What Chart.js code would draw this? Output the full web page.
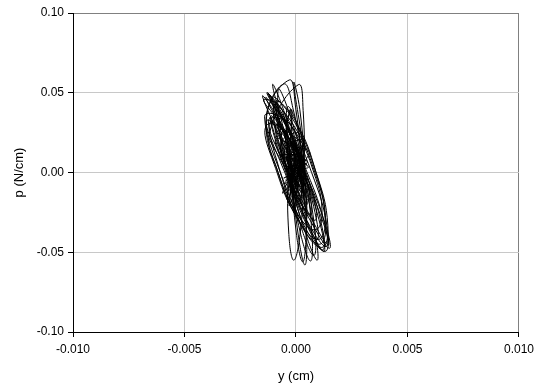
<!DOCTYPE html>
<html>
<head>
<meta charset="utf-8">
<script src="https://cdn.jsdelivr.net/npm/chart.js@4.4.1/dist/chart.umd.min.js"></script>
<style>
  html, body { margin: 0; padding: 0; background: #fff; }
  #wrap { width: 539px; height: 392px; }
</style>
</head>
<body>
<div id="wrap"><canvas id="loopChart" width="539" height="392"></canvas></div>
<script>
// Displacement y (cm), one line per loop of the record
const dispY = [
  -0.00050, -0.00027, 0.00012, 0.00043, 0.00050, 0.00027, -0.00012, -0.00043,
  0.00030, 0.00028, 0.00010, -0.00014, -0.00030, -0.00028, -0.00010, 0.00014,
  0.00060, 0.00049, 0.00010, -0.00035, -0.00060, -0.00049, -0.00010, 0.00035,
  -0.00070, -0.00041, 0.00012, 0.00057, 0.00070, 0.00041, -0.00012, -0.00057,
  -0.00060, -0.00017, 0.00035, 0.00067, 0.00060, 0.00017, -0.00035, -0.00067,
  0.00010, 0.00014, 0.00010, 0.00000, -0.00010, -0.00014, -0.00010, 0.00000,
  -0.00030, -0.00010, 0.00015, 0.00032, 0.00030, 0.00010, -0.00015, -0.00032,
  -0.00085, -0.00032, 0.00040, 0.00088, 0.00085, 0.00032, -0.00040, -0.00088,
  0.00050, 0.00041, 0.00008, -0.00029, -0.00050, -0.00041, -0.00008, 0.00029,
  -0.00020, -0.00007, 0.00010, 0.00021, 0.00020, 0.00007, -0.00010, -0.00021,
  -0.00150, -0.00078, 0.00040, 0.00134, 0.00150, 0.00078, -0.00040, -0.00134,
  -0.00030, -0.00002, 0.00030, 0.00048, 0.00040, 0.00012, -0.00020, -0.00038,
  0.00040, 0.00035, 0.00010, -0.00021, -0.00040, -0.00035, -0.00010, 0.00021,
  -0.00130, -0.00043, 0.00070, 0.00141, 0.00130, 0.00043, -0.00070, -0.00141,
  -0.00085, -0.00003, 0.00080, 0.00117, 0.00085, 0.00003, -0.00080, -0.00117,
  0.00010, 0.00032, 0.00035, 0.00018, -0.00010, -0.00032, -0.00035, -0.00018,
  -0.00045, -0.00025, 0.00010, 0.00039, 0.00045, 0.00025, -0.00010, -0.00039,
  -0.00105, -0.00013, 0.00090, 0.00143, 0.00115, 0.00023, -0.00080, -0.00133,
  -0.00055, -0.00012, 0.00040, 0.00072, 0.00065, 0.00022, -0.00030, -0.00062,
  -0.00145, -0.00082, 0.00030, 0.00124, 0.00145, 0.00082, -0.00030, -0.00124,
  -0.00040, -0.00007, 0.00030, 0.00049, 0.00040, 0.00007, -0.00030, -0.00049,
  -0.00105, -0.00055, 0.00025, 0.00087, 0.00095, 0.00045, -0.00035, -0.00097,
  -0.00120, -0.00053, 0.00045, 0.00117, 0.00120, 0.00053, -0.00045, -0.00117,
  -0.00060, -0.00031, 0.00015, 0.00053, 0.00060, 0.00031, -0.00015, -0.00053,
  -0.00080, -0.00029, 0.00040, 0.00085, 0.00080, 0.00029, -0.00040, -0.00085,
  -0.00085, 0.00000, 0.00090, 0.00134, 0.00105, 0.00020, -0.00070, -0.00114,
  0.00020, 0.00022, 0.00012, -0.00006, -0.00020, -0.00022, -0.00012, 0.00006,
  -0.00135, -0.00060, 0.00050, 0.00130, 0.00135, 0.00060, -0.00050, -0.00130,
  0.00055, 0.00043, 0.00005, -0.00035, -0.00055, -0.00043, -0.00005, 0.00035,
  -0.00010, 0.00017, 0.00040, 0.00045, 0.00030, 0.00003, -0.00020, -0.00025,
  -0.00055, -0.00035, 0.00005, 0.00043, 0.00055, 0.00035, -0.00005, -0.00043,
  -0.00100, -0.00011, 0.00085, 0.00131, 0.00100, 0.00011, -0.00085, -0.00131,
  0.00025, 0.00026, 0.00012, -0.00010, -0.00025, -0.00026, -0.00012, 0.00010,
  -0.00125, -0.00063, 0.00035, 0.00113, 0.00125, 0.00063, -0.00035, -0.00113,
  -0.00035, -0.00014, 0.00015, 0.00036, 0.00035, 0.00014, -0.00015, -0.00036,
  -0.00095, -0.00042, 0.00035, 0.00092, 0.00095, 0.00042, -0.00035, -0.00092,
  0.00005, 0.00015, 0.00015, 0.00007, -0.00005, -0.00015, -0.00015, -0.00007,
  -0.00015, 0.00003, 0.00020, 0.00025, 0.00015, -0.00003, -0.00020, -0.00025,
  0.00035, 0.00033, 0.00012, -0.00017, -0.00035, -0.00033, -0.00012, 0.00017,
  -0.00045, -0.00021, 0.00015, 0.00043, 0.00045, 0.00021, -0.00015, -0.00043,
  -0.00025, -0.00004, 0.00020, 0.00032, 0.00025, 0.00004, -0.00020, -0.00032,
  0.00015, 0.00025, 0.00020, 0.00003, -0.00015, -0.00025, -0.00020, -0.00003,
  -0.00040, -0.00017, 0.00015, 0.00039, 0.00040, 0.00017, -0.00015, -0.00039,
  0.00030, 0.00032, 0.00015, -0.00010, -0.00030, -0.00032, -0.00015, 0.00010,
  -0.00010, 0.00011, 0.00025, 0.00025, 0.00010, -0.00011, -0.00025, -0.00025,
  0.00045, 0.00039, 0.00010, -0.00025, -0.00045, -0.00039, -0.00010, 0.00025,
  -0.00030, -0.00014, 0.00010, 0.00028, 0.00030, 0.00014, -0.00010, -0.00028,
  0.00000, 0.00018, 0.00025, 0.00018, 0.00000, -0.00018, -0.00025, -0.00018,
  0.00000
];

// Force p (N/cm), same order as dispY
const forceP = [
  0.0200, 0.0141, 0.0000, -0.0141, -0.0200, -0.0141, 0.0000, 0.0141,
  0.0210, 0.0148, 0.0000, -0.0148, -0.0210, -0.0148, 0.0000, 0.0148,
  0.0130, 0.0092, 0.0000, -0.0092, -0.0130, -0.0092, 0.0000, 0.0092,
  0.0110, 0.0078, 0.0000, -0.0078, -0.0110, -0.0078, 0.0000, 0.0078,
  0.0260, 0.0184, 0.0000, -0.0184, -0.0260, -0.0184, 0.0000, 0.0184,
  0.0250, 0.0177, 0.0000, -0.0177, -0.0250, -0.0177, 0.0000, 0.0177,
  0.0160, 0.0113, 0.0000, -0.0113, -0.0160, -0.0113, 0.0000, 0.0113,
  0.0300, 0.0212, 0.0000, -0.0212, -0.0300, -0.0212, 0.0000, 0.0212,
  0.0070, 0.0049, 0.0000, -0.0049, -0.0070, -0.0049, 0.0000, 0.0049,
  0.0090, 0.0064, 0.0000, -0.0064, -0.0090, -0.0064, 0.0000, 0.0064,
  0.0475, 0.0336, 0.0000, -0.0336, -0.0475, -0.0336, 0.0000, 0.0336,
  0.0580, 0.0410, 0.0000, -0.0410, -0.0580, -0.0410, 0.0000, 0.0410,
  0.0170, 0.0120, 0.0000, -0.0120, -0.0170, -0.0120, 0.0000, 0.0120,
  0.0495, 0.0350, 0.0000, -0.0350, -0.0495, -0.0350, 0.0000, 0.0350,
  0.0360, 0.0255, 0.0000, -0.0255, -0.0360, -0.0255, 0.0000, 0.0255,
  0.0550, 0.0389, 0.0000, -0.0389, -0.0550, -0.0389, 0.0000, 0.0389,
  0.0270, 0.0191, 0.0000, -0.0191, -0.0270, -0.0191, 0.0000, 0.0191,
  0.0470, 0.0332, 0.0000, -0.0332, -0.0470, -0.0332, 0.0000, 0.0332,
  0.0555, 0.0392, 0.0000, -0.0392, -0.0555, -0.0392, 0.0000, 0.0392,
  0.0455, 0.0322, 0.0000, -0.0322, -0.0455, -0.0322, 0.0000, 0.0322,
  0.0320, 0.0226, 0.0000, -0.0226, -0.0320, -0.0226, 0.0000, 0.0226,
  0.0550, 0.0389, 0.0000, -0.0389, -0.0550, -0.0389, 0.0000, 0.0389,
  0.0485, 0.0343, 0.0000, -0.0343, -0.0485, -0.0343, 0.0000, 0.0343,
  0.0180, 0.0127, 0.0000, -0.0127, -0.0180, -0.0127, 0.0000, 0.0127,
  0.0520, 0.0368, 0.0000, -0.0368, -0.0520, -0.0368, 0.0000, 0.0368,
  0.0450, 0.0318, 0.0000, -0.0318, -0.0450, -0.0318, 0.0000, 0.0318,
  0.0120, 0.0085, 0.0000, -0.0085, -0.0120, -0.0085, 0.0000, 0.0085,
  0.0465, 0.0329, 0.0000, -0.0329, -0.0465, -0.0329, 0.0000, 0.0329,
  0.0035, 0.0025, 0.0000, -0.0025, -0.0035, -0.0025, 0.0000, 0.0025,
  0.0560, 0.0396, 0.0000, -0.0396, -0.0560, -0.0396, 0.0000, 0.0396,
  0.0050, 0.0035, 0.0000, -0.0035, -0.0050, -0.0035, 0.0000, 0.0035,
  0.0420, 0.0297, 0.0000, -0.0297, -0.0420, -0.0297, 0.0000, 0.0297,
  0.0190, 0.0134, 0.0000, -0.0134, -0.0190, -0.0134, 0.0000, 0.0134,
  0.0495, 0.0350, 0.0000, -0.0350, -0.0495, -0.0350, 0.0000, 0.0350,
  0.0220, 0.0156, 0.0000, -0.0156, -0.0220, -0.0156, 0.0000, 0.0156,
  0.0420, 0.0297, 0.0000, -0.0297, -0.0420, -0.0297, 0.0000, 0.0297,
  0.0140, 0.0099, 0.0000, -0.0099, -0.0140, -0.0099, 0.0000, 0.0099,
  0.0200, 0.0141, 0.0000, -0.0141, -0.0200, -0.0141, 0.0000, 0.0141,
  0.0090, 0.0064, 0.0000, -0.0064, -0.0090, -0.0064, 0.0000, 0.0064,
  0.0130, 0.0092, 0.0000, -0.0092, -0.0130, -0.0092, 0.0000, 0.0092,
  0.0120, 0.0085, 0.0000, -0.0085, -0.0120, -0.0085, 0.0000, 0.0085,
  0.0160, 0.0113, 0.0000, -0.0113, -0.0160, -0.0113, 0.0000, 0.0113,
  0.0080, 0.0057, 0.0000, -0.0057, -0.0080, -0.0057, 0.0000, 0.0057,
  0.0110, 0.0078, 0.0000, -0.0078, -0.0110, -0.0078, 0.0000, 0.0078,
  0.0180, 0.0127, 0.0000, -0.0127, -0.0180, -0.0127, 0.0000, 0.0127,
  0.0050, 0.0035, 0.0000, -0.0035, -0.0050, -0.0035, 0.0000, 0.0035,
  0.0040, 0.0028, 0.0000, -0.0028, -0.0040, -0.0028, 0.0000, 0.0028,
  0.0100, 0.0071, 0.0000, -0.0071, -0.0100, -0.0071, 0.0000, 0.0071,
  0.0000
];

// Axis ranges and tick spacing
const xRange = [-0.010, 0.010];
const xStep = 0.005;
const yRange = [-0.10, 0.10];
const yStep = 0.05;

const points = dispY.map((x, i) => ({ x: x, y: forceP[i] }));

// darker line on the outer (top / right) frame, light grey inside
function gridColor(max) {
    return function(ctx) {
        if (ctx.tick && Math.abs(ctx.tick.value - max) < 1e-9) return '#808080';
        return '#c8c8c8';
    };
}

function fmt(digits) {
    return function(value) {
        if (Math.abs(value) < 1e-12) value = 0;
        return value.toFixed(digits);
    };
}

const ctx = document.getElementById('loopChart').getContext('2d');
new Chart(ctx, {
    type: 'scatter',
    data: {
        datasets: [{
            data: points,
            showLine: true,
            borderColor: '#000',
            borderWidth: 1,
            pointRadius: 0,
            tension: 0.45,
            fill: false
        }]
    },
    options: {
        responsive: false,
        animation: false,
        layout: { padding: { top: 13, right: 16, bottom: 0, left: 0 } },
        plugins: {
            legend: { display: false },
            tooltip: { enabled: false }
        },
        scales: {
            x: {
                type: 'linear',
                min: xRange[0],
                max: xRange[1],
                afterFit: function(scale) { scale.height = 60; },
                ticks: {
                    stepSize: xStep,
                    color: '#000',
                    padding: 5,
                    maxRotation: 0,
                    font: { family: 'Liberation Sans, Arial, sans-serif', size: 12 },
                    callback: fmt(3)
                },
                grid: {
                    color: gridColor(xRange[1]),
                    tickColor: '#000',
                    tickLength: 5
                },
                border: { color: '#000', width: 1 },
                title: {
                    display: true,
                    text: 'y (cm)',
                    color: '#000',
                    padding: { top: 0, bottom: 8 },
                    font: { family: 'Liberation Sans, Arial, sans-serif', size: 13 }
                }
            },
            y: {
                type: 'linear',
                min: yRange[0],
                max: yRange[1],
                afterFit: function(scale) { scale.width = 73; },
                ticks: {
                    stepSize: yStep,
                    color: '#000',
                    padding: 4,
                    font: { family: 'Liberation Sans, Arial, sans-serif', size: 12 },
                    callback: fmt(2)
                },
                grid: {
                    color: gridColor(yRange[1]),
                    tickColor: '#000',
                    tickLength: 5
                },
                border: { color: '#000', width: 1 },
                title: {
                    display: true,
                    text: 'p (N/cm)',
                    color: '#000',
                    padding: { top: 12, bottom: 0 },
                    font: { family: 'Liberation Sans, Arial, sans-serif', size: 13 }
                }
            }
        }
    }
});
</script>
</body>
</html>
